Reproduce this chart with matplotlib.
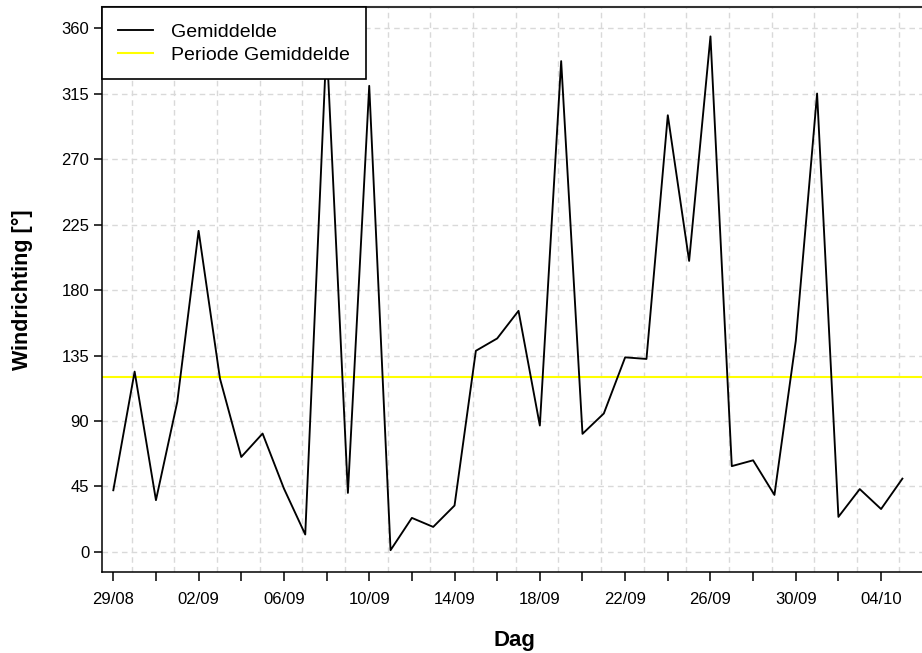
import numpy as np
import pandas as pd
import matplotlib
matplotlib.use("Agg")
import matplotlib.pyplot as plt
import matplotlib.dates as mdates

plt.rcParams['font.family'] = ['Liberation Sans', 'DejaVu Sans']

# daggemiddelde windrichting, 29/08 t/m 05/10
dagen = pd.date_range("2021-08-29", "2021-10-05", freq="D")
windrichting = [42.4, 124.0, 35.6, 103.2, 220.8, 119.3, 65.3, 81.4, 43.6, 12.0,
                350.0, 40.6, 320.5, 1.2, 23.4, 17.2, 31.9, 138.3, 146.8, 165.8,
                86.9, 337.5, 81.2, 95.2, 133.8, 132.7, 300.3, 200.1, 354.5, 59.0,
                63.0, 39.2, 145.0, 315.2, 24.1, 43.2, 29.5, 50.4]
y_ticks = [0, 45, 90, 135, 180, 225, 270, 315, 360]

periode_gem = np.mean(windrichting)

fig = plt.figure(figsize=(9.22, 6.53), dpi=100)
ax = fig.add_axes([0.1103, 0.1236, 0.8962, 0.8652])

x = mdates.date2num(dagen)
ax.plot(x, windrichting, color="black", lw=1.35, label="Gemiddelde", zorder=3)
ax.axhline(periode_gem, color="#FFFF00", lw=1.5, label="Periode Gemiddelde", zorder=2)

ax.set_xlim(x[0] - 0.544, x[0] + 38.2)
ax.set_ylim(-14, 374.5)

# tickjes om de 2 dagen, label om de 4 dagen
ax.set_xticks(x[::2])
ax.set_xticklabels([d.strftime("%d/%m") if i % 2 == 0 else "" for i, d in enumerate(dagen[::2])])
# rasterlijnen liggen iets verschoven t.o.v. de tickjes
ax.set_xticks(x[::2] + 0.863, minor=True)
ax.set_yticks(y_ticks)

ax.tick_params(axis="x", which="major", length=6.5, width=1.1, pad=8, labelsize=12)
ax.tick_params(axis="x", which="minor", length=0)
ax.tick_params(axis="y", length=6, width=1.1, pad=3, labelsize=12)

ax.grid(True, axis="y", which="major", color="#D9D9D9", ls=(0, (4, 3)), lw=1.0)
ax.grid(True, axis="x", which="minor", color="#D9D9D9", ls=(0, (4, 3)), lw=1.0)
ax.set_axisbelow(True)

for s in ["left", "bottom"]:
    ax.spines[s].set_linewidth(1.1)
    ax.spines[s].set_color("black")
ax.spines["top"].set_linewidth(1.5)
ax.spines["top"].set_color("#333333")
ax.spines["right"].set_visible(False)

ax.set_xlabel("Dag", fontsize=16, fontweight="bold", labelpad=16)
ax.set_ylabel("Windrichting [°]", fontsize=15.5, fontweight="bold", labelpad=20)

leg = ax.legend(loc="upper left", bbox_to_anchor=(0, 1), borderaxespad=0,
                fancybox=False, framealpha=1, edgecolor="black", fontsize=14,
                handlelength=1.8, handletextpad=0.93, borderpad=0.82, labelspacing=0.26)
leg.get_frame().set_linewidth(1.2)
leg.set_zorder(5)

fig.savefig("out.png", dpi=100)
